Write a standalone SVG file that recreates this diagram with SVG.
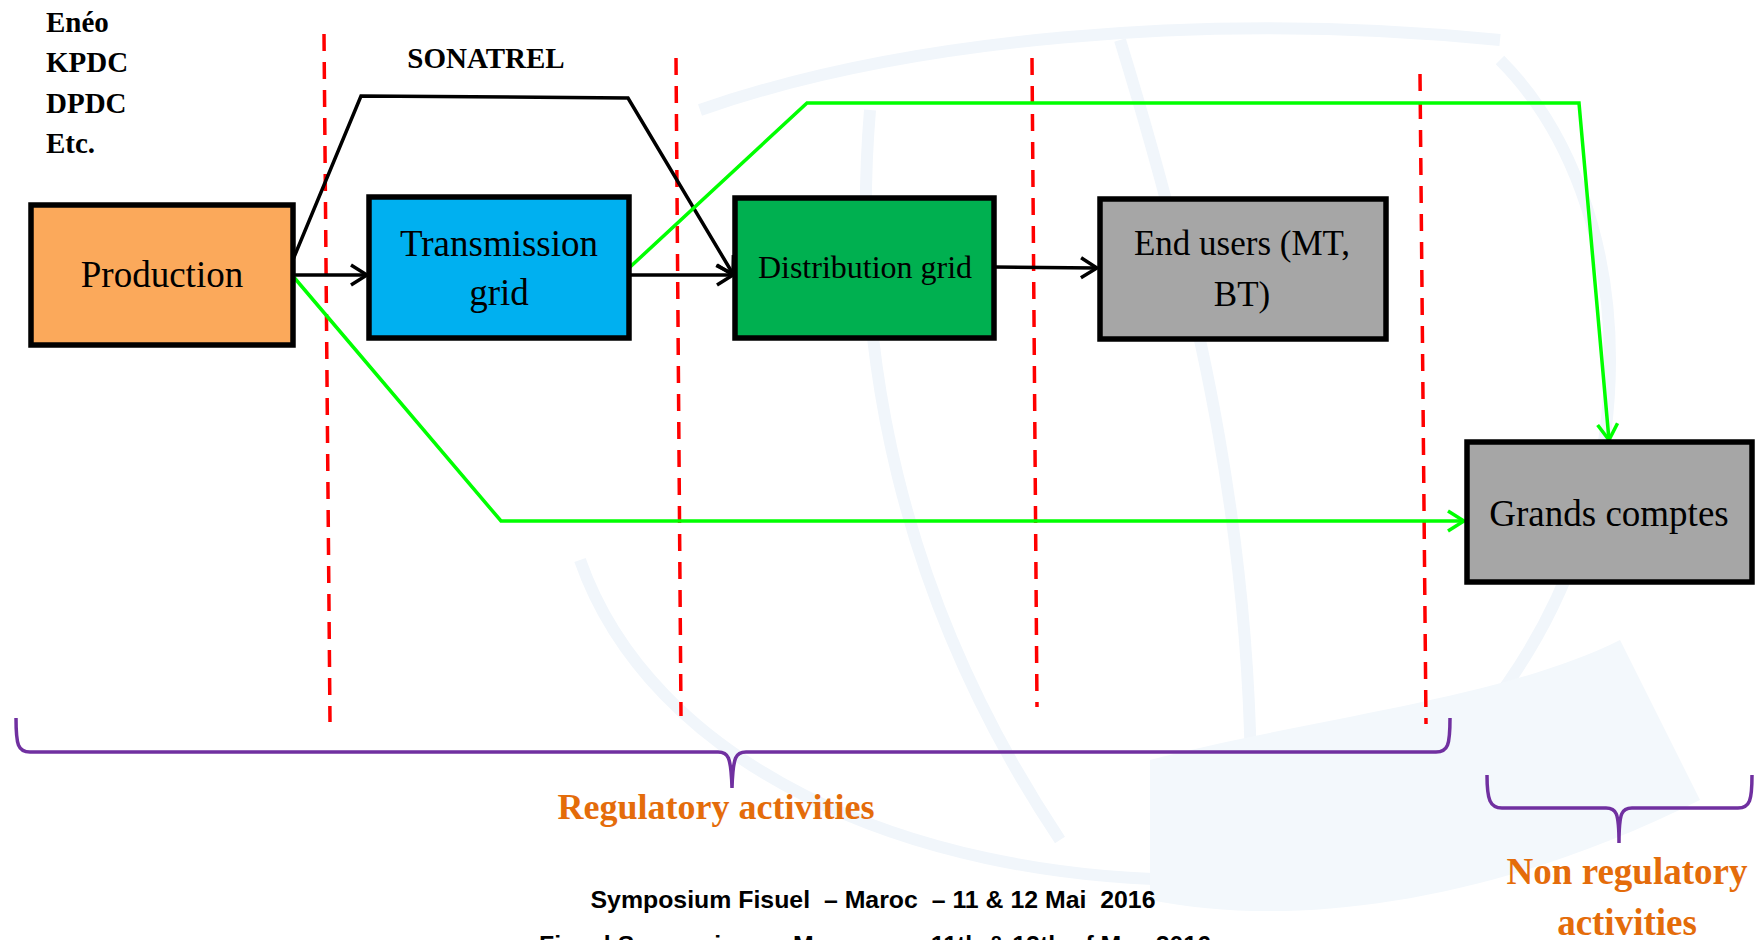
<svg xmlns="http://www.w3.org/2000/svg" width="1758" height="940" viewBox="0 0 1758 940">
<style>
.box{stroke:#000;stroke-width:5.5}
.t{font-family:"Liberation Serif","Times New Roman",serif;fill:#000;text-anchor:middle}
.b{font-family:"Liberation Serif","Times New Roman",serif;font-weight:bold;fill:#000}
.o{font-family:"Liberation Serif","Times New Roman",serif;font-weight:bold;fill:#E46C0A;text-anchor:middle}
.f{font-family:"Liberation Sans",Arial,sans-serif;font-weight:bold;fill:#000;text-anchor:middle;font-size:24px}
.blk{fill:none;stroke:#000;stroke-width:3.5}
.grn{fill:none;stroke:#00FF00;stroke-width:3.5}
.red{fill:none;stroke:#FF0000;stroke-width:3.5;stroke-dasharray:17 11}
.brace{fill:none;stroke:#7030A0;stroke-width:3.5}
.wm{fill:none;stroke:#F1F6FB;stroke-width:12}
</style>
<defs>
<marker id="ab" viewBox="0 0 20 24" refX="18" refY="12" markerWidth="20" markerHeight="24" markerUnits="userSpaceOnUse" orient="auto">
<path d="M2,2 L18,12 L2,22" fill="none" stroke="#000" stroke-width="3.5"/>
</marker>
<marker id="ag" viewBox="0 0 20 24" refX="18" refY="12" markerWidth="20" markerHeight="24" markerUnits="userSpaceOnUse" orient="auto">
<path d="M2,2 L18,12 L2,22" fill="none" stroke="#00FF00" stroke-width="3.5"/>
</marker>
</defs>
<rect width="1758" height="940" fill="#fff"/>
<g id="watermark">
<path class="wm" d="M700,110 C900,40 1200,10 1500,40"/>
<path class="wm" d="M1500,60 C1640,200 1660,500 1480,720"/>
<path class="wm" d="M580,560 C650,760 900,880 1200,880"/>
<path class="wm" d="M870,110 C850,350 900,600 1060,840"/>
<path class="wm" d="M1120,40 C1200,300 1260,560 1250,860"/>
<path d="M1150,760 C1300,720 1500,700 1620,640 L1700,800 C1500,900 1300,930 1150,900 Z" fill="#F3F8FC"/>
</g>
<g id="dividers">
<line class="red" x1="324" y1="34" x2="330" y2="722"/>
<line class="red" x1="676" y1="58" x2="681" y2="716"/>
<line class="red" x1="1032" y1="58" x2="1037" y2="707"/>
<line class="red" x1="1420" y1="74" x2="1426" y2="724"/>
</g>
<g id="connectors">
<path class="blk" d="M293,275 L367,275" marker-end="url(#ab)"/>
<path class="blk" d="M292,262 L361,96 L628,98 L733,274" marker-end="url(#ab)"/>
<path class="blk" d="M629,275 L733,275" marker-end="url(#ab)"/>
<path class="blk" d="M994,267 L1097,268" marker-end="url(#ab)"/>
<path class="grn" d="M629,268 L807,103 L1579,103 L1609,440" marker-end="url(#ag)"/>
<path class="grn" d="M292,275 L501,521 L1464,521" marker-end="url(#ag)"/>
</g>
<g id="production">
<rect class="box" x="31" y="205" width="262" height="140" fill="#FBA95B"/>
<text class="t" x="162" y="287" font-size="37">Production</text>
</g>
<g id="transmission">
<rect class="box" x="369" y="197" width="260" height="141" fill="#00B0F0"/>
<text class="t" x="499" y="256" font-size="37">Transmission</text>
<text class="t" x="499" y="305" font-size="37">grid</text>
</g>
<g id="distribution">
<rect class="box" x="735" y="198" width="259" height="140" fill="#00B050"/>
<text class="t" x="865" y="278" font-size="32">Distribution grid</text>
</g>
<g id="endusers">
<rect class="box" x="1100" y="199" width="286" height="140" fill="#A6A6A6"/>
<text class="t" x="1242" y="255" font-size="35">End users (MT,</text>
<text class="t" x="1242" y="306" font-size="35">BT)</text>
</g>
<g id="grandscomptes">
<rect class="box" x="1467" y="442" width="285" height="140" fill="#A6A6A6"/>
<text class="t" x="1609" y="526" font-size="37">Grands comptes</text>
</g>
<g id="producers">
<text class="b" x="46" y="32" font-size="29">Enéo</text>
<text class="b" x="46" y="72" font-size="29">KPDC</text>
<text class="b" x="46" y="113" font-size="29">DPDC</text>
<text class="b" x="46" y="153" font-size="29">Etc.</text>
</g>
<g id="sonatrel">
<text class="b" x="486" y="68" font-size="29" text-anchor="middle">SONATREL</text>
</g>
<g id="regulatory">
<path class="brace" d="M16,718 C16,745 18,752 30,752 L718,752 C728,752 731,756 732,788 C733,756 736,752 746,752 L1436,752 C1448,752 1450,745 1450,718"/>
<text class="o" x="716" y="819" font-size="36">Regulatory activities</text>
</g>
<g id="nonregulatory">
<path class="brace" stroke-width="4" d="M1487,775 C1487,800 1490,808 1502,808 L1606,808 C1616,808 1619,812 1619,843 C1619,812 1622,808 1632,808 L1738,808 C1750,808 1752,800 1752,775"/>
<text class="o" x="1627" y="884" font-size="37">Non regulatory</text>
<text class="o" x="1627" y="935" font-size="37">activities</text>
</g>
<g id="footer">
<text class="f" x="873" y="908" xml:space="preserve" textLength="565" lengthAdjust="spacingAndGlyphs">Symposium Fisuel  – Maroc  – 11 &amp; 12 Mai  2016</text>
<text class="f" x="875" y="953" xml:space="preserve" textLength="672" lengthAdjust="spacingAndGlyphs">Fisuel Symposium  – Morocco  – 11th &amp; 12th of May 2016</text>
</g>
</svg>
